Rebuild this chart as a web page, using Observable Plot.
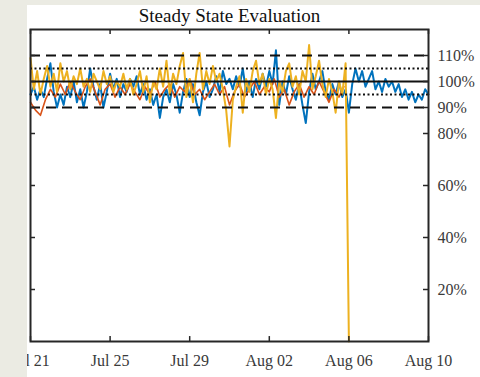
<!DOCTYPE html>
<html><head><meta charset="utf-8">
<script src="https://cdn.jsdelivr.net/npm/d3@7"></script>
<script src="https://cdn.jsdelivr.net/npm/@observablehq/plot@0.6"></script>
<style>
html,body{margin:0;padding:0;background:#fff;}
#wrap{position:relative;width:480px;height:377px;overflow:hidden;background:#fff;}
#wrap svg{position:absolute;left:0;top:0;}
.bg{position:absolute;background:#ebebe3;}
</style></head>
<body><div id="wrap"></div>
<script>
const title = "Steady State Evaluation";
const startDate = "2021-07-21T00:00Z";
const endDate = "2021-08-10T00:00Z";
const xTickLabels = ["2021-07-21","2021-07-25","2021-07-29","2021-08-02","2021-08-06","2021-08-10"];
const yTicks = [20, 40, 60, 80, 90, 100, 110];
const refDashed = [90, 110];
const refDotted = [95, 105];
const refSolid = [100];

// series sampled every 4 h (blue, yellow) and 6 h (orange) from Jul 21
const blueStepH = 4;
const blue = [95,98,93,97,94,101,107,96,90,95,91,98,94,100,92,97,90,96,105,98,93,99,90,96,103,97,101,94,99,96,
101,98,102,95,99,93,97,91,95,86,94,97,92,99,95,88,96,101,94,99,92,87,96,100,94,97,102,96,104,99,
101,97,102,98,105,96,100,94,101,97,103,98,104,99,112,91,100,95,102,97,93,99,91,84,96,103,97,100,104,96,
93,99,95,100,94,97,88,99,105,100,104,98,101,104,97,100,96,101,98,100,96,99,94,97,93,96,92,95,93,97,95];
const yellowStepH = 4;
const yellow = [109,97,104,95,101,106,98,103,96,107,100,104,97,102,99,105,98,101,96,103,100,97,104,99,102,96,100,98,103,97,
101,95,99,104,96,102,92,100,97,105,98,108,95,103,99,106,111,94,101,92,103,111,97,104,99,106,100,103,97,89,
75,93,98,102,88,101,96,104,108,99,103,95,101,97,86,100,96,104,107,98,102,95,104,100,114,97,102,108,99,94,
101,96,88,100,95,107,0];
const orangeStepH = 6;
const orange = [92,89,87,93,97,94,99,95,100,96,93,98,101,96,91,97,99,94,98,95,99,96,93,98,95,100,94,97,99,94,
98,96,101,95,97,93,96,99,95,98,91,96,99,94,97,100,95,98,96,101,94,97,91,96,99,94,98,95,100,96,92,97,94,98];

const t0 = new Date(startDate);
const H = 3600e3;
const toRows = (vals, stepH, name) => vals.map((v, i) => ({t: new Date(+t0 + i*stepH*H), v, name}));
const rowsBlue = toRows(blue, blueStepH, "blue");
const rowsOrange = toRows(orange, orangeStepH, "orange");
const rowsYellow = toRows(yellow, yellowStepH, "yellow");

const xTicks = xTickLabels.map(d => new Date(d + "T00:00Z"));
const xStart = new Date(startDate), xEnd = new Date(endDate);
const tickDays = 0.25 * 24 * H;
const fmt = d3.utcFormat("%b %d");

const chart = Plot.plot({
  width: 480, height: 377,
  marginLeft: 30, marginRight: 52, marginTop: 29, marginBottom: 36,
  style: {fontFamily: "'Liberation Serif', 'Times New Roman', serif", fontSize: "16px", color: "#3a3a3a", background: "transparent"},
  x: {type: "utc", domain: [xStart, xEnd], label: null},
  y: {domain: [0, 120], label: null},
  marks: [
    Plot.lineY(rowsBlue, {x: "t", y: "v", stroke: "#0072BD", strokeWidth: 2}),
    Plot.lineY(rowsOrange, {x: "t", y: "v", stroke: "#D95319", strokeWidth: 1.6}),
    Plot.lineY(rowsYellow, {x: "t", y: "v", stroke: "#EDB120", strokeWidth: 2}),
    Plot.ruleY(refDashed, {stroke: "#111", strokeWidth: 2, strokeDasharray: "10,6"}),
    Plot.ruleY(refDotted, {stroke: "#111", strokeWidth: 2, strokeDasharray: "2,2.5"}),
    Plot.ruleY(refSolid, {stroke: "#111", strokeWidth: 2}),
    // inward ticks
    Plot.ruleX(xTicks, {y1: 0, y2: 1.9, stroke: "#262626", strokeWidth: 1.5}),
    Plot.ruleX(xTicks, {y1: 120, y2: 118.1, stroke: "#262626", strokeWidth: 1.5}),
    Plot.ruleY(yTicks, {x1: xStart, x2: new Date(+xStart + tickDays), stroke: "#262626", strokeWidth: 1.5}),
    Plot.ruleY(yTicks, {x1: xEnd, x2: new Date(+xEnd - tickDays), stroke: "#262626", strokeWidth: 1.5}),
    Plot.axisX({anchor: "bottom", ticks: xTicks, tickFormat: fmt, tickSize: 0, tickPadding: 13, fontSize: 16, fill: "#3a3a3a", label: null}),
    Plot.axisY({anchor: "right", ticks: yTicks, tickFormat: d => d + "%", tickSize: 0, tickPadding: 9, fontSize: 16, fill: "#3a3a3a", label: null}),
    Plot.frame({stroke: "#262626", strokeWidth: 2}),
    Plot.text([title], {frameAnchor: "top", dy: -21, fontSize: 19, fill: "#111"})
  ]
});
const wrap = document.getElementById("wrap");
wrap.appendChild(chart);
const leftStrip = document.createElement("div"); leftStrip.className = "bg";
Object.assign(leftStrip.style, {left: "0px", top: "0px", width: "27px", height: "377px"});
const topStrip = document.createElement("div"); topStrip.className = "bg";
Object.assign(topStrip.style, {left: "0px", top: "0px", width: "480px", height: "5px"});
wrap.appendChild(leftStrip); wrap.appendChild(topStrip);
</script></body></html>
